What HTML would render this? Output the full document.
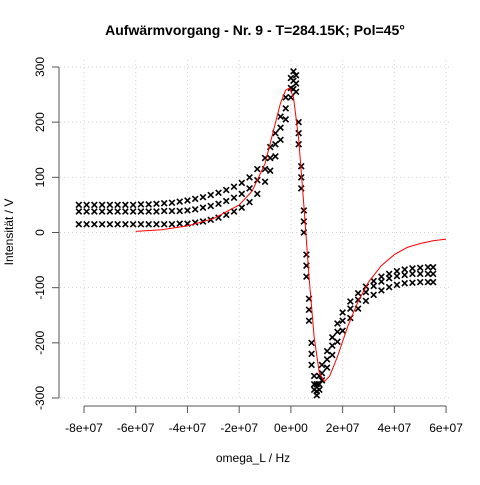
<!DOCTYPE html>
<html><head><meta charset="utf-8"><style>
body{margin:0;background:#fff}
svg text{font-family:"Liberation Sans",sans-serif}
</style></head><body>
<svg id="chart" width="480" height="480" xmlns="http://www.w3.org/2000/svg">
<rect width="480" height="480" fill="#fff"/>
<text x="255" y="35" text-anchor="middle" font-size="14" font-weight="bold">Aufwärmvorgang - Nr. 9 - T=284.15K; Pol=45°</text>
<text transform="translate(13,232) rotate(-90)" text-anchor="middle" font-size="12">Intensität / V</text>
<text x="253" y="462" text-anchor="middle" font-size="12">omega_L / Hz</text>
<g id="grid"></g>
<g id="axes"></g>
<g id="points"></g>
<g id="fit"></g>
</svg>
<script>
const xTicks=[-8,-6,-4,-2,0,2,4,6];
const xTickLabels=["-8e+07","-6e+07","-4e+07","-2e+07","0e+00","2e+07","4e+07","6e+07"];
const yTicks=[-300,-200,-100,0,100,200,300];
const xs=[-8.2,-7.9,-7.6,-7.3,-7.0,-6.7,-6.4,-6.1,-5.8,-5.5,-5.2,-4.9,-4.6,-4.3,-4.0,-3.7,-3.4,-3.1,-2.8,-2.5,-2.2,-1.9,-1.6,-1.3,-1.0,-0.8,-0.6,-0.4,-0.2,0.0,0.1,0.2,0.3,0.4,0.5,0.6,0.7,0.8,0.9,1.0,1.1,1.2,1.4,1.6,1.8,2.0,2.3,2.6,2.9,3.2,3.5,3.8,4.1,4.4,4.7,5.0,5.3,5.5];
const bandA=[50,50,50,50,50,50,50,50,51,51,52,53,54,56,58,61,64,68,72,77,83,90,100,115,135,155,180,210,245,280,292,285,200,120,40,-40,-120,-200,-260,-275,-260,-240,-215,-190,-165,-145,-125,-110,-98,-88,-80,-75,-70,-67,-65,-64,-63,-63];
const bandB=[38,38,38,38,38,38,38,38,38,38,38,39,39,39,40,42,45,48,52,57,63,70,80,95,115,135,160,190,225,262,275,270,180,100,20,-60,-140,-220,-275,-288,-275,-255,-230,-205,-180,-160,-138,-122,-108,-97,-89,-83,-79,-77,-75,-75,-75,-75];
const bandC=[15,15,15,15,15,15,15,15,15,15,15,15,15,16,16,18,20,23,27,32,38,45,55,70,92,112,138,168,205,245,260,255,160,80,0,-80,-160,-240,-285,-295,-285,-268,-245,-222,-198,-178,-155,-138,-124,-113,-105,-99,-95,-92,-91,-90,-90,-90];
const fitX=[-6,-5,-4,-3,-2,-1.5,-1,-0.7,-0.4,-0.2,-0.05,0.1,0.3,0.5,0.7,0.9,1.1,1.3,1.5,1.8,2.2,2.6,3.0,3.5,4.0,4.5,5.0,5.5,6.0];
const fitY=[2,5,12,25,50,75,125,180,235,258,262,245,170,50,-80,-190,-255,-270,-260,-225,-170,-125,-90,-60,-40,-27,-20,-15,-12];

const NS="http://www.w3.org/2000/svg";
function X(v){return 290.9+v*25.86;}
function Y(v){return 232.5-v*0.5517;}
function mk(tag,attrs,parent){const e=document.createElementNS(NS,tag);for(const k in attrs)e.setAttribute(k,attrs[k]);parent.appendChild(e);return e;}
const grid=document.getElementById('grid'),axes=document.getElementById('axes'),pts=document.getElementById('points'),fit=document.getElementById('fit');
xTicks.forEach((t,i)=>{
 const g=mk('line',{x1:X(t),x2:X(t),y1:60,y2:400,stroke:'#d3d3d3','stroke-dasharray':'1,3'},grid);
 
 
 const tk=mk('line',{x1:X(t),x2:X(t),y1:406,y2:413,stroke:'#555'},axes);
 
 
 const lb=mk('text',{x:X(t),y:432,'text-anchor':'middle','font-size':'12'},axes);
 lb.textContent=xTickLabels[i];
 
 
});
yTicks.forEach(t=>{
 const g=mk('line',{x1:60,x2:450,y1:Y(t),y2:Y(t),stroke:'#d3d3d3','stroke-dasharray':'1,3'},grid);
 
 
 const tk=mk('line',{x1:52,x2:59,y1:Y(t),y2:Y(t),stroke:'#555'},axes);
 
 
 const lb=mk('text',{transform:`translate(44,${Y(t)}) rotate(-90)`,'text-anchor':'middle','font-size':'12'},axes);
 lb.textContent=String(t);
 
 
});
const ax1=mk('line',{x1:59,x2:59,y1:Y(300),y2:Y(-300),stroke:'#555'},axes);


const ax2=mk('line',{x1:X(-8),x2:X(6),y1:406,y2:406,stroke:'#555'},axes);


[bandA,bandB,bandC].forEach(band=>{
 xs.forEach((x,i)=>{
  const cx=X(x),cy=Y(band[i]),r=2.8;
  const p=mk('path',{d:`M${cx-r},${cy-r}L${cx+r},${cy+r}M${cx-r},${cy+r}L${cx+r},${cy-r}`,stroke:'#000','stroke-width':'1.6',fill:'none'},pts);
  
  
 });
});
const fl=mk('polyline',{points:fitX.map((x,i)=>X(x)+','+Y(fitY[i])).join(' '),stroke:'#ff0000',fill:'none','stroke-width':'1'},fit);


</script>
</body></html>
